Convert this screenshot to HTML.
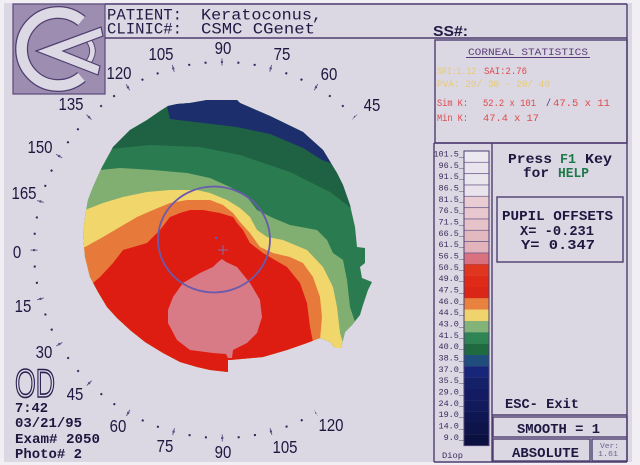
<!DOCTYPE html>
<html><head><meta charset="utf-8"><style>
html,body{margin:0;padding:0;background:#fff;}
svg{display:block}
</style></head><body>
<svg width="640" height="465" viewBox="0 0 640 465" xmlns="http://www.w3.org/2000/svg">
<defs>
<clipPath id="disc"><path d="M168,106 L177,104 L190,103 L207,100 L237,100 L240,103 L270,116 L303,132 L323,150 L337,173 L343,185 L350,205 L355,227 L357,247 L365,248 L365,263 L360,267 L362,278 L372,282 L368,290 L363,305 L360,315 L352,325 L345,332 L341,348 L335,348 L330,342 L320,338 L307,343 L287,350 L263,357 L230,360 L228,360 L228,372 L210,370 L197,367 L180,362 L163,353 L145,342 L130,330 L117,318 L107,307 L98,292 L90,277 L85,257 L83,235 L85,217 L88,200 L93,187 L102,167 L113,147 L130,130 L147,120 L160,111 Z"/></clipPath>
</defs>
<rect width="640" height="465" fill="#f1eff4"/>
<rect x="4" y="3" width="628" height="459" fill="#dbd7e3"/>

<!-- Logo -->
<rect x="13" y="4" width="92" height="90" fill="#9d8eb1" stroke="#5a4a7a" stroke-width="1.2"/>
<path d="M81.5,21 A36.5,36.5 0 1 0 81.5,77" fill="none" stroke="#4e3e70" stroke-width="13"/>
<path d="M81.5,21 A36.5,36.5 0 1 0 81.5,77" fill="none" stroke="#dcd8e4" stroke-width="10.5"/>
<path d="M86,37 Q99,51 86,65" fill="none" stroke="#4e3e70" stroke-width="6.5"/>
<path d="M86,37 Q99,51 86,65" fill="none" stroke="#dcd8e4" stroke-width="4.5"/>
<polygon points="36,51 101,27 103,36 63,51 100,66 98,75" fill="#dcd8e4" stroke="#4e3e70" stroke-width="1.2"/>

<!-- Header lines -->
<g stroke="#4e3e70" stroke-width="1.4" fill="none">
<line x1="105" y1="4" x2="627" y2="4"/>
<line x1="105" y1="38" x2="627" y2="38"/>
<line x1="627" y1="4" x2="627" y2="462"/>
<rect x="435" y="40" width="192" height="103"/>
<line x1="434" y1="143" x2="434" y2="462"/>
<line x1="434" y1="143" x2="627" y2="143"/>
<line x1="434" y1="462" x2="627" y2="462"/>
<line x1="492" y1="143" x2="492" y2="462"/>
<rect x="497" y="197" width="126" height="65"/>
<line x1="492" y1="415" x2="627" y2="415"/>
<rect x="493" y="417" width="134" height="20"/>
<rect x="493" y="439" width="97" height="22"/>
<rect x="592" y="439" width="35" height="22"/>
</g>

<!-- Header text -->
<g font-family="Liberation Mono, monospace" fill="#221a44" font-size="15.5">
<text x="107" y="19.5" textLength="75" lengthAdjust="spacingAndGlyphs">PATIENT:</text>
<text x="201" y="19.5" textLength="121" lengthAdjust="spacingAndGlyphs">Keratoconus,</text>
<text x="107" y="33.5" textLength="75" lengthAdjust="spacingAndGlyphs">CLINIC#:</text>
<text x="201" y="33.5" textLength="114" lengthAdjust="spacingAndGlyphs">CSMC CGenet</text>
</g>
<text x="433" y="36" font-family="Liberation Sans, sans-serif" font-weight="bold" font-size="15" fill="#221a44" textLength="35" lengthAdjust="spacingAndGlyphs">SS#:</text>

<!-- Corneal statistics -->
<g font-family="Liberation Mono, monospace" font-size="10.5">
<text x="468" y="55" fill="#5a3a78" textLength="120" lengthAdjust="spacingAndGlyphs">CORNEAL STATISTICS</text>
<line x1="466" y1="57.5" x2="590" y2="57.5" stroke="#5a3a78" stroke-width="1"/>
<text x="437" y="74" fill="#e6cc72" textLength="39" lengthAdjust="spacingAndGlyphs">SRI:1.12</text>
<text x="484" y="74" fill="#e04a4a" textLength="43" lengthAdjust="spacingAndGlyphs">SAI:2.76</text>
<text x="437" y="87" fill="#e6cc72" textLength="113" lengthAdjust="spacingAndGlyphs">PVA: 20/ 30 - 20/ 40</text>
<text x="437" y="106" fill="#e04a4a" textLength="31" lengthAdjust="spacingAndGlyphs">Sim K:</text>
<text x="483" y="106" fill="#e04a4a" textLength="53" lengthAdjust="spacingAndGlyphs">52.2 x 101</text>
<text x="546" y="106" fill="#3a2a6a" textLength="5" lengthAdjust="spacingAndGlyphs">/</text>
<text x="553" y="106" fill="#e04a4a" textLength="57" lengthAdjust="spacingAndGlyphs">47.5 x  11</text>
<text x="437" y="121" fill="#e04a4a" textLength="31" lengthAdjust="spacingAndGlyphs">Min K:</text>
<text x="483" y="121" fill="#e04a4a" textLength="56" lengthAdjust="spacingAndGlyphs">47.4 x  17</text>
</g>

<!-- Legend swatches -->
<g stroke="#6e5e90" stroke-width="0.7">
<rect x="464" y="151.0" width="25" height="11.3" fill="#ebe8ef"/>
<rect x="464" y="162.3" width="25" height="11.4" fill="#e9e5ee"/>
<rect x="464" y="173.7" width="25" height="11.3" fill="#eae6ee"/>
<rect x="464" y="185.0" width="25" height="11.3" fill="#e9e4ec"/>
<rect x="464" y="196.3" width="25" height="11.4" fill="#eacdd3"/>
<rect x="464" y="207.7" width="25" height="11.3" fill="#e8c7ce"/>
<rect x="464" y="219.0" width="25" height="11.3" fill="#e6c2c9"/>
<rect x="464" y="230.3" width="25" height="11.3" fill="#e3b9c0"/>
<rect x="464" y="241.6" width="25" height="11.4" fill="#e2b3bb"/>
<rect x="464" y="253.0" width="25" height="11.3" fill="#d9717f"/>
</g>
<g>
<rect x="464" y="264.3" width="25" height="11.4" fill="#e0361e"/>
<rect x="464" y="275.6" width="25" height="11.4" fill="#de2a16"/>
<rect x="464" y="287.0" width="25" height="11.4" fill="#d92616"/>
<rect x="464" y="298.3" width="25" height="11.4" fill="#e8823e"/>
<rect x="464" y="309.6" width="25" height="11.5" fill="#efd36c"/>
<rect x="464" y="321.0" width="25" height="11.4" fill="#84b37a"/>
<rect x="464" y="332.3" width="25" height="11.4" fill="#2e8553"/>
<rect x="464" y="343.6" width="25" height="11.5" fill="#1f6a3f"/>
<rect x="464" y="355.0" width="25" height="11.4" fill="#1f4d7c"/>
<rect x="464" y="366.3" width="25" height="11.4" fill="#18267a"/>
<rect x="464" y="377.6" width="25" height="11.5" fill="#142068"/>
<rect x="464" y="389.0" width="25" height="11.4" fill="#131c62"/>
<rect x="464" y="400.3" width="25" height="11.4" fill="#111a5a"/>
<rect x="464" y="411.6" width="25" height="11.4" fill="#0f1752"/>
<rect x="464" y="422.9" width="25" height="11.5" fill="#0d144a"/>
<rect x="464" y="434.3" width="25" height="11.3" fill="#0a1040"/>
</g>
<rect x="464" y="151" width="25" height="294.6" fill="none" stroke="#4e3e70" stroke-width="1"/>

<g font-family="Liberation Mono, monospace" font-size="8.5" fill="#3a2a5a" text-anchor="end">
<text x="464" y="156.5">101.5_</text>
<text x="464" y="167.8">96.5_</text>
<text x="464" y="179.2">91.5_</text>
<text x="464" y="190.5">86.5_</text>
<text x="464" y="201.8">81.5_</text>
<text x="464" y="213.2">76.5_</text>
<text x="464" y="224.5">71.5_</text>
<text x="464" y="235.8">66.5_</text>
<text x="464" y="247.1">61.5_</text>
<text x="464" y="258.5">56.5_</text>
<text x="464" y="269.8">50.5_</text>
<text x="464" y="281.1">49.0_</text>
<text x="464" y="292.5">47.5_</text>
<text x="464" y="303.8">46.0_</text>
<text x="464" y="315.1">44.5_</text>
<text x="464" y="326.5">43.0_</text>
<text x="464" y="337.8">41.5_</text>
<text x="464" y="349.1">40.0_</text>
<text x="464" y="360.5">38.5_</text>
<text x="464" y="371.8">37.0_</text>
<text x="464" y="383.1">35.5_</text>
<text x="464" y="394.5">29.0_</text>
<text x="464" y="405.8">24.0_</text>
<text x="464" y="417.1">19.0_</text>
<text x="464" y="428.4">14.0_</text>
<text x="464" y="439.8">9.0_</text>
<text x="463" y="458" text-anchor="end" textLength="21" lengthAdjust="spacingAndGlyphs">Diop</text>
</g>

<!-- Right panel text -->
<g font-family="Liberation Mono, monospace" font-weight="bold" font-size="14" fill="#1e1840">
<text x="508" y="163" textLength="44" lengthAdjust="spacingAndGlyphs">Press</text>
<text x="560" y="163" fill="#1e7a4a" textLength="16" lengthAdjust="spacingAndGlyphs">F1</text>
<text x="585" y="163" textLength="27" lengthAdjust="spacingAndGlyphs">Key</text>
<text x="523" y="177" textLength="26" lengthAdjust="spacingAndGlyphs">for</text>
<text x="558" y="177" fill="#1e7a4a" textLength="31" lengthAdjust="spacingAndGlyphs">HELP</text>
<text x="502" y="220" textLength="111" lengthAdjust="spacingAndGlyphs">PUPIL OFFSETS</text>
<text x="520" y="235" textLength="74" lengthAdjust="spacingAndGlyphs">X= -0.231</text>
<text x="521" y="249" textLength="74" lengthAdjust="spacingAndGlyphs">Y=  0.347</text>
<text x="505" y="408" textLength="74" lengthAdjust="spacingAndGlyphs">ESC- Exit</text>
<text x="517" y="433" textLength="83" lengthAdjust="spacingAndGlyphs">SMOOTH = 1</text>
<text x="512" y="457" textLength="67" lengthAdjust="spacingAndGlyphs">ABSOLUTE</text>
</g>
<g font-family="Liberation Mono, monospace" font-size="7.5" fill="#6a6688">
<text x="600" y="448" textLength="19" lengthAdjust="spacingAndGlyphs">Ver:</text>
<text x="598" y="456" textLength="20" lengthAdjust="spacingAndGlyphs">1.61</text>
</g>

<!-- Bottom-left info -->
<text x="15" y="397" font-family="Liberation Sans, sans-serif" font-size="40" fill="#dbd7e3" stroke="#2a2050" stroke-width="1.6" textLength="40" lengthAdjust="spacingAndGlyphs">OD</text>
<g font-family="Liberation Mono, monospace" font-weight="bold" font-size="14" fill="#1e1840">
<text x="15" y="412" textLength="33" lengthAdjust="spacingAndGlyphs">7:42</text>
<text x="15" y="427" textLength="67" lengthAdjust="spacingAndGlyphs">03/21/95</text>
<text x="15" y="443" textLength="85" lengthAdjust="spacingAndGlyphs">Exam# 2050</text>
<text x="15" y="458" textLength="67" lengthAdjust="spacingAndGlyphs">Photo# 2</text>
</g>

<!-- Map -->
<g clip-path="url(#disc)">
<rect x="60" y="80" width="340" height="310" fill="#2a7b4f"/>
<path d="M60,60 L400,60 L400,215 L360,215 L330,192 L290,172 L240,155 L200,147 L150,145 L100,150 L60,160 Z" fill="#1f6243"/>
<path d="M165,80 L345,80 L345,168 L322,160 L303,148 L270,134 L237,127 L203,123 L170,119 L167,106 Z" fill="#1c2e6c"/>
<path d="M60,173 L100,170 L120,168 L153,170 L187,173 L210,178 L230,187 L247,197 L257,210 L273,218 L290,225 L317,230 L327,240 L333,253 L343,260 L347,280 L350,307 L355,322 L380,330 L380,400 L60,400 Z" fill="#81af72"/>
<path d="M60,210 L85,210 L103,203 L123,197 L147,192 L170,190 L197,190 L210,193 L227,200 L240,208 L250,217 L257,230 L267,237 L283,240 L307,250 L323,267 L333,287 L337,307 L340,333 L345,350 L345,400 L60,400 Z" fill="#f1d76b"/>
<path d="M60,247 L85,247 L103,237 L120,227 L137,217 L153,210 L170,203 L187,200 L210,200 L223,205 L233,213 L240,222 L250,233 L260,247 L273,253 L290,257 L303,263 L313,277 L320,297 L322,317 L320,340 L325,400 L60,400 Z" fill="#e77a3a"/>
<path d="M60,295 L93,283 L100,277 L113,263 L123,250 L147,243 L160,230 L170,217 L180,213 L190,210 L203,210 L220,213 L233,217 L237,223 L243,230 L250,243 L263,253 L287,267 L300,283 L307,303 L310,327 L313,342 L313,400 L60,400 Z" fill="#de1d12"/>
<path d="M222,259 L226,262 L237,267 L250,283 L260,300 L262,317 L257,333 L247,343 L233,350 L232,358 L228,358 L226,354 L213,353 L190,350 L177,340 L168,323 L168,310 L173,297 L183,283 L200,273 L213,267 L218,262 Z" fill="#d87b87"/>
</g>
<ellipse cx="214" cy="239.5" rx="56" ry="53" fill="none" stroke="#6a5aae" stroke-width="1.8"/>
<circle cx="216" cy="238" r="1.2" fill="#6a5aae"/>
<path d="M218,250 L228,250 M223,245 L223,255" stroke="#8a6aa8" stroke-width="1"/>

<!-- Tick ring -->
<path d="M354.94,117.06 A188,188 0 1 0 316,412.81" fill="none" stroke="#2e2656" stroke-width="2" stroke-dasharray="2 14.406" stroke-dashoffset="1"/>
<path d="M354.94,117.06 A188,188 0 1 0 316,412.81" fill="none" stroke="#6a5a90" stroke-width="7" stroke-dasharray="1 48.218" stroke-dashoffset="0.5"/>

<g font-family="Liberation Sans, sans-serif" font-size="15" fill="#1e1840" text-anchor="middle">
<text transform="translate(372,111) scale(1,1.15)">45</text>
<text transform="translate(329,80) scale(1,1.15)">60</text>
<text transform="translate(282,60) scale(1,1.15)">75</text>
<text transform="translate(223,54) scale(1,1.15)">90</text>
<text transform="translate(161,60) scale(1,1.15)">105</text>
<text transform="translate(119,79) scale(1,1.15)">120</text>
<text transform="translate(71,110) scale(1,1.15)">135</text>
<text transform="translate(40,153) scale(1,1.15)">150</text>
<text transform="translate(24,199) scale(1,1.15)">165</text>
<text transform="translate(17,258) scale(1,1.15)">0</text>
<text transform="translate(23,312) scale(1,1.15)">15</text>
<text transform="translate(44,358) scale(1,1.15)">30</text>
<text transform="translate(75,400) scale(1,1.15)">45</text>
<text transform="translate(118,432) scale(1,1.15)">60</text>
<text transform="translate(165,452) scale(1,1.15)">75</text>
<text transform="translate(223,458) scale(1,1.15)">90</text>
<text transform="translate(285,453) scale(1,1.15)">105</text>
<text transform="translate(331,431) scale(1,1.15)">120</text>
</g>
</svg>
</body></html>
